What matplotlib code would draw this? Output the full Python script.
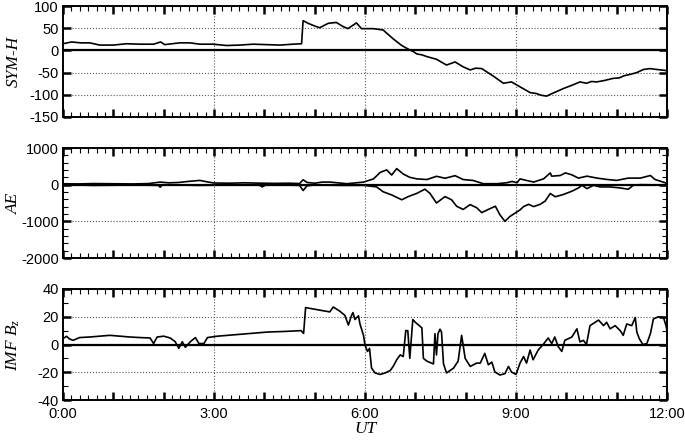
import matplotlib
matplotlib.use("Agg")
import matplotlib.pyplot as plt
from matplotlib.ticker import MultipleLocator, FuncFormatter

# SYM-H index (nT), time in decimal hours UT
symh_t = [0.00, 0.17, 0.35, 0.53, 0.73, 1.00, 1.26, 1.53, 1.80, 1.94, 2.02, 2.32,
          2.52, 2.72, 2.98, 3.25, 3.51, 3.78, 4.04, 4.31, 4.57, 4.74, 4.77, 4.87,
          5.00, 5.10, 5.27, 5.43, 5.56, 5.66, 5.83, 5.93, 6.16, 6.36, 6.56, 6.73,
          6.89, 6.95, 7.03, 7.13, 7.23, 7.42, 7.62, 7.79, 7.95, 8.09, 8.20, 8.32,
          8.55, 8.75, 8.91, 9.11, 9.28, 9.40, 9.50, 9.61, 9.70, 9.80, 9.94, 10.10,
          10.27, 10.40, 10.50, 10.60, 10.75, 10.93, 11.05, 11.15, 11.27, 11.40,
          11.53, 11.66, 11.80, 11.96, 12.00]
symh = [15, 19, 17, 17, 12, 12, 15, 14, 14, 19, 13, 17,
        17, 14, 14, 11, 12, 14, 13, 12, 14, 15, 67, 61,
        55, 51, 61, 63, 54, 49, 62, 49, 49, 46, 26, 11,
        1, -2, -8, -10, -14, -20, -33, -26, -37, -44, -40, -41,
        -58, -74, -71, -84, -95, -97, -101, -103, -98, -93, -86, -79,
        -71, -74, -70, -71, -68, -63, -62, -57, -54, -50,
        -43, -41, -43, -45, -46]

# AU (upper) and AL (lower) auroral indices (nT)
au_t = [0.0, 0.3, 0.6, 1.0, 1.4, 1.7, 1.93, 2.1, 2.3, 2.5, 2.72, 2.85, 3.0, 3.3,
        3.6, 3.96, 4.2, 4.5, 4.70, 4.77, 4.85, 5.0, 5.15, 5.30, 5.64, 5.97, 6.17,
        6.30, 6.43, 6.53, 6.63, 6.76, 6.89, 7.03, 7.23, 7.42, 7.59, 7.79, 7.95,
        8.15, 8.35, 8.62, 8.82, 8.92, 9.02, 9.08, 9.21, 9.35, 9.55, 9.68, 9.71,
        9.88, 9.98, 10.11, 10.24, 10.41, 10.61, 10.80, 11.00, 11.23, 11.47, 11.67,
        11.76, 11.96, 12.0]
au = [25, 20, 30, 25, 20, 30, 70, 50, 60, 90, 116, 80, 45, 40,
      50, 40, 35, 40, 30, 134, 60, 40, 70, 71, 26, 70, 158,
      333, 403, 263, 438, 290, 200, 158, 140, 228, 175, 245, 140,
      114, 26, 26, 53, 88, 53, 158, 114, 71, 160, 321, 232,
      250, 321, 268, 179, 232, 179, 143, 116, 179, 179, 250,
      143, 54, 30]

al_t = [0.0, 0.3, 0.6, 1.0, 1.4, 1.7, 1.90, 1.93, 1.97, 2.3, 2.7, 3.0, 3.4, 3.90,
        3.96, 4.02, 4.4, 4.70, 4.77, 4.85, 5.0, 5.3, 5.6, 5.97, 6.23, 6.36, 6.53,
        6.73, 6.86, 7.03, 7.19, 7.29, 7.42, 7.59, 7.72, 7.82, 7.95, 8.09, 8.22,
        8.32, 8.45, 8.59, 8.68, 8.78, 8.88, 8.98, 9.08, 9.15, 9.25, 9.35, 9.48,
        9.58, 9.68, 9.78, 9.94, 10.11, 10.24, 10.31, 10.41, 10.54, 10.67, 10.87,
        11.07, 11.23, 11.33, 11.47, 12.0]
al = [-15, -10, -20, -15, -10, -15, -20, -70, -15, -10, -20, -15, -10, -15,
      -60, -15, -10, -20, -160, -30, -10, -15, -20, -18, -61, -193, -280,
      -412, -325, -237, -123, -237, -500, -325, -412, -588, -675, -544, -631,
      -763, -675, -588, -820, -1000, -866, -777, -688, -598, -536, -598, -536,
      -447, -241, -330, -268, -179, -89, -18, -107, -18, -62, -62,
      -89, -125, -18, 0, -10]

# IMF Bz (nT)
bz_t = [0.00, 0.07, 0.13, 0.20, 0.33, 0.53, 0.73, 0.93, 1.13, 1.33, 1.53, 1.73,
        1.80, 1.87, 2.00, 2.13, 2.23, 2.30, 2.37, 2.43, 2.53, 2.63, 2.70, 2.80,
        2.87, 3.07, 3.40, 3.73, 4.07, 4.40, 4.73, 4.78, 4.82, 4.91, 5.11, 5.30,
        5.37, 5.50, 5.60, 5.67, 5.73, 5.76, 5.80, 5.87, 5.90, 5.97, 6.00, 6.05,
        6.09, 6.13, 6.20, 6.30, 6.40, 6.50, 6.56, 6.63, 6.70, 6.76, 6.81, 6.85,
        6.89, 6.95, 7.00, 7.13, 7.16, 7.23, 7.36, 7.39, 7.42, 7.45, 7.49, 7.52,
        7.56, 7.62, 7.76, 7.85, 7.92, 7.99, 8.09, 8.22, 8.29, 8.38, 8.45, 8.52,
        8.58, 8.68, 8.78, 8.85, 8.91, 9.00, 9.08, 9.15, 9.21, 9.28, 9.34, 9.44,
        9.54, 9.64, 9.71, 9.77, 9.84, 9.91, 9.97, 10.04, 10.11, 10.21, 10.27,
        10.34, 10.40, 10.47, 10.57, 10.64, 10.74, 10.80, 10.87, 10.97, 11.07,
        11.13, 11.20, 11.30, 11.37, 11.40, 11.45, 11.52, 11.60, 11.67, 11.73,
        11.83, 11.93, 11.98, 12.00]
bz = [4.2, 5.9, 4.0, 3.0, 5.0, 5.4, 6.0, 6.6, 6.0, 5.4, 5.0, 4.7,
      0.7, 5.4, 6.0, 4.7, 2.0, -2.8, 2.0, -2.0, 2.0, 5.0, 0.7, 0.7,
      5.0, 6.0, 7.0, 8.0, 9.0, 9.4, 10.0, 8.0, 26.6, 26.0, 24.7, 23.5,
      27.0, 24.0, 21.0, 14.0, 20.7, 23.0, 18.0, 20.7, 14.8, 6.6, -0.5, -5.0,
      -2.8, -17.0, -20.5, -21.6, -20.5, -18.8, -15.8, -11.0, -7.5, -8.7, 10.0, 10.0,
      -10.0, 18.0, 16.0, 12.0, -10.0, -12.0, -14.0, 7.8, -7.5, 7.8, 11.0, 9.0,
      -14.0, -20.5, -17.0, -12.0, 6.6, -10.0, -15.8, -13.4, -13.4, -6.4, -14.6, -12.7,
      -19.8, -22.0, -21.0, -15.8, -19.8, -21.6, -13.4, -8.7, -13.4, -4.0, -11.0, -4.0,
      0.0, 4.7, 0.7, 5.4, -1.6, -5.0, 3.0, 4.2, 5.4, 11.3, 1.9,
      3.0, 0.0, 13.6, 16.0, 17.6, 13.6, 16.0, 11.3, 13.6, 10.0,
      6.6, 14.8, 13.6, 19.5, 9.0, 4.2, 0.0, 0.7, 7.8, 18.4,
      20.0, 19.5, 13.6, 10.0]

label_hours = [0, 3, 6, 9, 12]
grid_hours = [3, 6, 9]

plt.rcParams['font.family'] = ['Liberation Sans', 'DejaVu Sans']
plt.rcParams['font.size'] = 10.5
plt.rcParams['axes.unicode_minus'] = False
plt.rcParams['mathtext.fontset'] = 'custom'
plt.rcParams['mathtext.it'] = 'Liberation Serif:italic'
plt.rcParams['mathtext.rm'] = 'Liberation Serif'

fig = plt.figure(figsize=(6.85, 4.45), dpi=100)
left, width = 63 / 685, 604 / 685
ax1 = fig.add_axes([left, 1 - 117 / 445, width, 111 / 445])
ax2 = fig.add_axes([left, 1 - 258 / 445, width, 110 / 445])
ax3 = fig.add_axes([left, 1 - 400 / 445, width, 111 / 445])

ax1.plot(symh_t, symh, color='black', lw=1.2)
ax2.plot(au_t, au, color='black', lw=1.2)
ax2.plot(al_t, al, color='black', lw=1.2)
ax3.plot(bz_t, bz, color='black', lw=1.2)

settings = [
    (ax1, (-150, 100), 50, None, 'SYM-H'),
    (ax2, (-2000, 1000), 1000, 200, 'AE'),
    (ax3, (-40, 40), 20, 10, r'$IMF\ B_z$'),
]

for ax, ylim, major, minor, label in settings:
    ax.set_xlim(0, 12)
    ax.set_ylim(*ylim)
    ax.xaxis.set_major_locator(MultipleLocator(1))
    ax.xaxis.set_minor_locator(MultipleLocator(1 / 6))
    ax.yaxis.set_major_locator(MultipleLocator(major))
    if minor:
        ax.yaxis.set_minor_locator(MultipleLocator(minor))
    ax.tick_params(which='both', direction='in', top=True, right=True)
    ax.tick_params(which='major', length=6, width=1.8, pad=3)
    ax.tick_params(which='minor', length=3.5, width=0.8)
    for s in ax.spines.values():
        s.set_linewidth(1.4)
    ax.yaxis.grid(True, which='major', linestyle=':', color='0.35', lw=0.8)
    for h in grid_hours:
        ax.axvline(h, linestyle=':', color='0.35', lw=0.8, zorder=0)
    ax.axhline(0, color='black', lw=1.6)
    ax.set_ylabel(label, family='Liberation Serif', style='italic', fontsize=12.5)
    ax.yaxis.set_label_coords(-0.068, 0.5)
    ax.xaxis.set_major_formatter(FuncFormatter(lambda v, p: ''))

ax3.xaxis.set_major_formatter(
    FuncFormatter(lambda v, p: f"{int(round(v))}:00" if round(v) in label_hours else ''))
ax3.tick_params(axis='x', which='major', pad=5)
ax3.set_xlabel('UT', family='Liberation Serif', style='italic', fontsize=12.5, labelpad=0)

fig.savefig('out.png', dpi=100)
